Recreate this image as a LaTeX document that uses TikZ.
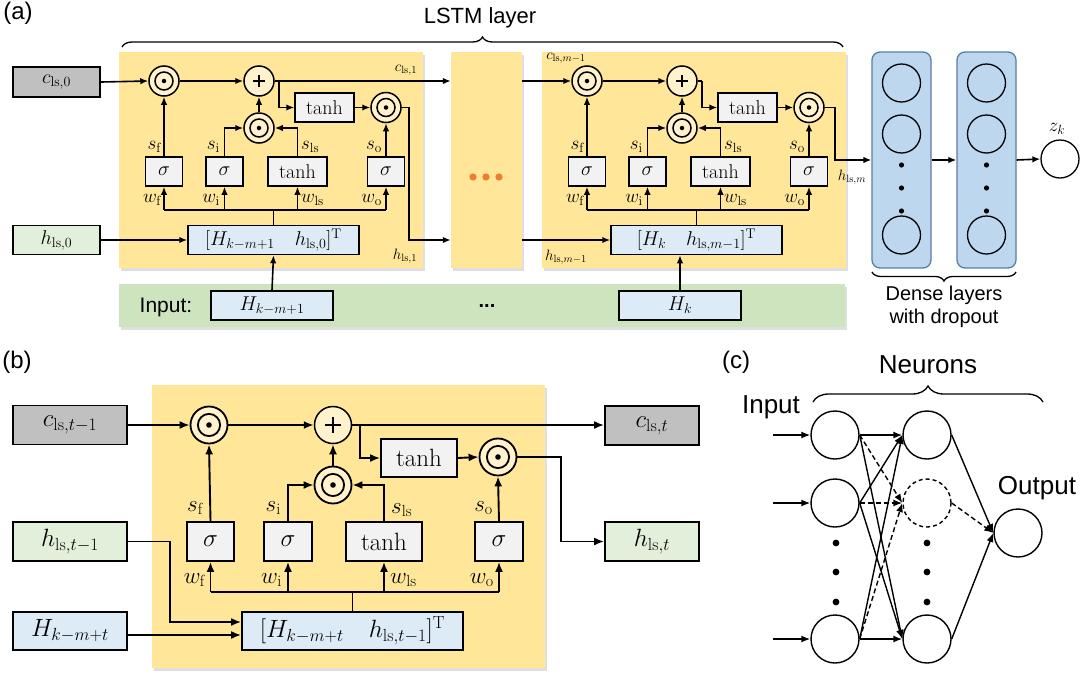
\RequirePackage{fix-cm}
\documentclass[tikz,border=0pt]{standalone}
\usepackage{fontspec}
\setsansfont{Liberation Sans}
\usetikzlibrary{arrows.meta,decorations.pathreplacing,calc,shadows}
\definecolor{cellY}{HTML}{FFE699}
\definecolor{circF}{HTML}{FFF2CC}
\definecolor{grayF}{HTML}{C0C0C0}
\definecolor{greenF}{HTML}{E2EFDA}
\definecolor{blueF}{HTML}{DDEBF7}
\definecolor{sigF}{HTML}{F2F2F2}
\definecolor{inputG}{HTML}{CDE4BE}
\definecolor{denseF}{HTML}{BDD7EE}
\definecolor{denseD}{HTML}{5B7DA5}
\definecolor{dotO}{HTML}{ED7D31}
\tikzset{
 lnA/.style={line width=1.6pt},
 arrA/.style={lnA,-{Latex[length=8pt,width=6.5pt]}},
 lnB/.style={line width=1.9pt},
 arrB/.style={lnB,-{Latex[length=10pt,width=8pt]}},
 arrC/.style={line width=1.4pt,-{Latex[length=9pt,width=7pt]}},
 cellbg/.style={fill=cellY, draw=none, inner sep=0pt, drop shadow={opacity=0.25, shadow xshift=2pt, shadow yshift=-2.5pt}},
 mA/.style={font=\fontsize{20}{22}\selectfont},
 mB/.style={font=\fontsize{25}{28}\selectfont},
 lblA/.style={font=\fontsize{19}{21}\selectfont, inner sep=0pt},
 lblB/.style={font=\fontsize{23}{26}\selectfont, inner sep=0pt},
 tinyA/.style={font=\fontsize{15}{17}\selectfont, inner sep=0pt},
 sansT/.style={font=\sffamily\fontsize{22}{26}\selectfont, inner sep=0pt},
 sansC/.style={font=\sffamily\fontsize{26}{30}\selectfont, inner sep=0pt},
 boxA/.style={draw, line width=1.5pt, inner sep=0pt, minimum height=29, mA},
 boxB/.style={draw, line width=1.8pt, inner sep=0pt, minimum height=39, mB},
 odot/.style 2 args={circle, draw, fill=circF, line width=#2, minimum size=#1, inner sep=0pt,
   path picture={\draw[black, line width=#2] (path picture bounding box.center) circle[radius=0.3*#1];
     \fill[black] (path picture bounding box.center) circle[radius=0.075*#1];}},
 plusc/.style 2 args={circle, draw, fill=circF, line width=1.5pt, minimum size=#1, inner sep=0pt,
   path picture={\draw[black, line width=2.3pt] ([xshift=-#2]path picture bounding box.center) -- ([xshift=#2]path picture bounding box.center)
     ([yshift=-#2]path picture bounding box.center) -- ([yshift=#2]path picture bounding box.center);}},
 odotA/.style={odot={30pt}{1.5pt}},
 plusA/.style={plusc={30pt}{6pt}},
 odotB/.style={odot={37pt}{1.8pt}},
 plusB/.style={plusc={37pt}{8pt}},
 neur/.style={circle, draw, line width=1.4pt, minimum size=48, inner sep=0pt},
 dneur/.style={circle, draw, line width=1.3pt, minimum size=38, inner sep=0pt},
}
\newcommand\lstmcell[3]{%
\begin{scope}[xshift=#2, name prefix=#1-]
\node[cellbg, minimum width=304, minimum height=216] (bg) at (271,160) {};
\node[odotA] (f) at (164,81) {};
\node[plusA] (p) at (259,81) {};
\node[odotA] (m) at (259,128) {};
\node[boxA, fill=sigF, minimum width=59] (th) at (324.5,107.5) {$\tanh$};
\node[odotA] (o) at (386,107.5) {};
\node[boxA, fill=sigF, minimum width=37] (sf) at (164,171.5) {$\sigma$};
\node[boxA, fill=sigF, minimum width=37] (si) at (224.5,171.5) {$\sigma$};
\node[boxA, fill=sigF, minimum width=59] (sl) at (297.5,171.5) {$\tanh$};
\node[boxA, fill=sigF, minimum width=37] (so) at (386,171.5) {$\sigma$};
\node[boxA, fill=blueF, minimum width=171] (cat) at (273.5,240) {#3};
\coordinate (bus) at (273.5,210);
\draw[lnA] (cat.north) -- (bus);
\draw[lnA] (sf.south |- bus) -- (so.south |- bus);
\foreach \n in {sf,si,sl,so} {\draw[arrA] (\n.south |- bus) -- (\n.south);}
\draw[arrA] (f.east) -- (p.west);
\draw[lnA] (p.east) -- ++(4,0) coordinate (br);
\draw[arrA] (br) |- (th.west);
\draw[arrA] (th.east) -- (o.west);
\draw[arrA] (sf.north) -- (f.south);
\draw[arrA] (si.north) |- (m.west);
\draw[arrA] (sl.north) |- (m.east);
\draw[arrA] (m.north) -- (p.south);
\draw[arrA] (so.north) -- (o.south);
\node[lblA, anchor=east] (lsf) at (161,147) {$s_{\mathrm{f}}$};
\node[lblA, anchor=east] (lsi) at (220,147) {$s_{\mathrm{i}}$};
\node[lblA, anchor=west] (lsl) at (301,147) {$s_{\mathrm{ls}}$};
\node[lblA, anchor=east] (lso) at (382,147) {$s_{\mathrm{o}}$};
\node[lblA, anchor=east] (lwf) at (161,200) {$w_{\mathrm{f}}$};
\node[lblA, anchor=east] (lwi) at (220,200) {$w_{\mathrm{i}}$};
\node[lblA, anchor=west] (lwl) at (301,200) {$w_{\mathrm{ls}}$};
\node[lblA, anchor=east] (lwo) at (382,200) {$w_{\mathrm{o}}$};
\end{scope}}
\begin{document}
\begin{tikzpicture}[x=1pt,y=-1pt]
\useasboundingbox (0,0) rectangle (1080,678);
% ---------------- (a) ----------------
\node[sansT, font=\sffamily\fontsize{24}{28}\selectfont] (la) at (18,13) {(a)};
\node[sansT] (lstm) at (480,18) {LSTM layer};
\draw[line width=1.3pt, decorate, decoration={brace, amplitude=10pt}] (122,47) -- (843,47);
\node[cellbg, fill=inputG, minimum width=726, minimum height=43] (bar) at (482,305.5) {};
\node[sansT, font=\sffamily\fontsize{21}{24}\selectfont] (inl) at (166,307) {Input:};
\node[sansT, font=\sffamily\bfseries\fontsize{20}{24}\selectfont] (dots) at (487,306) {...};
\node[boxA, fill=blueF, minimum width=122] (H1) at (272,305.5) {$H_{k-m+1}$};
\node[boxA, fill=blueF, minimum width=122] (Hk) at (680,305.5) {$H_{k}$};
\node[boxA, fill=grayF, minimum width=87, minimum height=30] (c0) at (56.5,82) {$c_{\mathrm{ls},0}$};
\node[boxA, fill=greenF, minimum width=87] (h0) at (56.5,240) {$h_{\mathrm{ls},0}$};
\lstmcell{c1}{0}{$[H_{k-m+1}\quad h_{\mathrm{ls},0}]^{\mathrm{T}}$}
\node[cellbg, minimum width=71, minimum height=216] (mid) at (486.5,160) {};
\fill[dotO] (473,177) circle[radius=3.6] (486,177) circle[radius=3.6] (499,177) circle[radius=3.6];
\lstmcell{c3}{423}{$[H_{k}\quad h_{\mathrm{ls},m-1}]^{\mathrm{T}}$}
\draw[arrA] (c0.east) -- (c1-f.west);
\draw[arrA] (h0.east) -- (c1-cat.west);
\draw[arrA] (H1.north) -- (c1-cat.south);
\draw[arrA] (Hk.north) -- (Hk.north |- c3-cat.south);
\draw[arrA] (c1-p.east) -- (mid.west |- c1-p.east);
\draw[arrA] (c1-o.east) -- (409,107.5) |- (mid.west |- c1-cat.west);
\draw[arrA] (mid.east |- c3-f.west) -- (c3-f.west);
\draw[arrA] (mid.east |- c3-cat.west) -- (c3-cat.west);
\node[tinyA] (lc1) at (406,70) {$c_{\mathrm{ls},1}$};
\node[tinyA] (lh1) at (405,256) {$h_{\mathrm{ls},1}$};
\node[tinyA] (lcm) at (566,58) {$c_{\mathrm{ls},m-1}$};
\node[tinyA] (lhm) at (566,257) {$h_{\mathrm{ls},m-1}$};
\node[tinyA] (lhmm) at (852,177) {$h_{\mathrm{ls},m}$};
% dense layers
\node[draw=denseD, fill=denseF, line width=1.3pt, rounded corners=8pt, minimum width=59, minimum height=216, inner sep=0pt] (d1) at (901.5,160) {};
\node[draw=denseD, fill=denseF, line width=1.3pt, rounded corners=8pt, minimum width=59, minimum height=216, inner sep=0pt] (d2) at (986.5,160) {};
\foreach \cx/\nm in {901.5/a,986.5/b}{
  \node[dneur] (n\nm1) at (\cx,83) {};
  \node[dneur] (n\nm2) at (\cx,134) {};
  \node[dneur] (n\nm3) at (\cx,235) {};
  \fill (\cx,165) circle[radius=2.6] (\cx,188) circle[radius=2.6] (\cx,211) circle[radius=2.6];
}
\node[dneur, fill=white] (zk) at (1060,159) {};
\node[lblA] (lzk) at (1057,129) {$z_k$};
\draw[arrA] (c3-o.east) -- (835,107.5) |- (d1.west);
\draw[arrA] (d1.east) -- (d2.west);
\draw[arrA] (d2.east) -- (zk.west);
\draw[line width=1.3pt, decorate, decoration={brace, amplitude=9pt}] (1016,272) -- (872,272);
\node[sansT, font=\sffamily\fontsize{20}{23}\selectfont, align=center] (dl) at (944,307) {Dense layers\\with dropout};
% ---------------- (b) ----------------
\node[sansT, font=\sffamily\fontsize{24}{28}\selectfont] (lb) at (17,362) {(b)};
\node[cellbg, minimum width=393, minimum height=283] (bbg) at (348.5,526.5) {};
\node[boxB, fill=grayF, minimum width=114] (ct1) at (70,425) {$c_{\mathrm{ls},t-1}$};
\node[boxB, fill=greenF, minimum width=114] (ht1) at (70,541.5) {$h_{\mathrm{ls},t-1}$};
\node[boxB, fill=blueF, minimum width=114, minimum height=38] (Ht) at (70,631) {$H_{k-m+t}$};
\node[odotB] (bf) at (209,425) {};
\node[plusB] (bp) at (333,425) {};
\node[odotB] (bm) at (333,485) {};
\node[boxB, fill=sigF, minimum width=76, minimum height=38] (bth) at (419,458) {$\tanh$};
\node[odotB] (bo) at (498,457) {};
\node[boxB, fill=sigF, minimum width=47] (bsf) at (210.5,541.5) {$\sigma$};
\node[boxB, fill=sigF, minimum width=48] (bsi) at (288,541.5) {$\sigma$};
\node[boxB, fill=sigF, minimum width=76] (bsl) at (384,541.5) {$\tanh$};
\node[boxB, fill=sigF, minimum width=48] (bso) at (499,541.5) {$\sigma$};
\node[boxB, fill=blueF, minimum width=221, minimum height=38] (bcat) at (352.5,631) {$[H_{k-m+t}\quad h_{\mathrm{ls},t-1}]^{\mathrm{T}}$};
\node[boxB, fill=grayF, minimum width=94] (ct) at (652,425.5) {$c_{\mathrm{ls},t}$};
\node[boxB, fill=greenF, minimum width=94] (htt) at (652,541.5) {$h_{\mathrm{ls},t}$};
\coordinate (bbus) at (352.5,592);
\draw[lnB] (bcat.north) -- (bbus);
\draw[lnB] (bsf.south |- bbus) -- (bso.south |- bbus);
\foreach \n in {bsf,bsi,bsl,bso} {\draw[arrB] (\n.south |- bbus) -- (\n.south);}
\draw[arrB] (ct1.east) -- (bf.west);
\draw[arrB] (bf.east) -- (bp.west);
\draw[arrB] (bp.east) -- (ct.west |- bp.east);
\draw[lnB] (bp.east) -- ++(8,0) coordinate (bbr);
\draw[arrB] (bbr) |- (bth.west);
\draw[arrB] (bth.east) -- (bo.west);
\draw[arrB] (bo.east) -- (561,457) |- (htt.west);
\draw[arrB] (bsf.north) -- (bf.south);
\draw[arrB] (bsi.north) |- (bm.west);
\draw[arrB] (bsl.north) |- (bm.east);
\draw[arrB] (bm.north) -- (bp.south);
\draw[arrB] (bso.north) -- (bo.south);
\draw[arrB] (ht1.east) -| (170,622) -- ([yshift=9pt]bcat.west);
\draw[arrB] (Ht.east |- 0,635) -- ([yshift=-4pt]bcat.west);
\node[lblB, anchor=east] (bls1) at (203,508) {$s_{\mathrm{f}}$};
\node[lblB, anchor=east] (bls2) at (281,508) {$s_{\mathrm{i}}$};
\node[lblB, anchor=west] (bls3) at (391,510) {$s_{\mathrm{ls}}$};
\node[lblB, anchor=east] (bls4) at (493,508) {$s_{\mathrm{o}}$};
\node[lblB, anchor=east] (blw1) at (205,580) {$w_{\mathrm{f}}$};
\node[lblB, anchor=east] (blw2) at (282,580) {$w_{\mathrm{i}}$};
\node[lblB, anchor=west] (blw3) at (390,580) {$w_{\mathrm{ls}}$};
\node[lblB, anchor=east] (blw4) at (494,580) {$w_{\mathrm{o}}$};
% ---------------- (c) ----------------
\node[sansC, font=\sffamily\fontsize{24}{28}\selectfont] (lc) at (736,362) {(c)};
\node[sansC] (neu) at (928,365) {Neurons};
\draw[line width=1.3pt, decorate, decoration={brace, amplitude=16pt}] (813,402) -- (1043,402);
\node[sansC] (inp) at (771,407) {Input};
\node[sansC] (outp) at (1037,488) {Output};
\node[neur] (i1) at (835,435) {};
\node[neur] (i2) at (835,503) {};
\node[neur] (i3) at (835,639) {};
\node[neur] (h1) at (927,435) {};
\node[neur, dash pattern=on 4pt off 3pt] (h2) at (927,503) {};
\node[neur] (h3) at (927,639) {};
\node[neur] (ou) at (1018,533) {};
\foreach \yy in {543,572,602} {\fill (836,\yy) circle[radius=3.4] (927,\yy) circle[radius=3.4];}
\coordinate (in1) at (773,435);
\coordinate (in2) at (773,503);
\coordinate (in3) at (773,639);
\draw[arrC] (in1) -- (i1.west);
\draw[arrC] (in2) -- (i2.west);
\draw[arrC] (in3) -- (i3.west);
\foreach \a in {i1,i2,i3} {
  \draw[arrC] (\a.east) -- (h1.west);
  \draw[arrC, dash pattern=on 5pt off 3pt] (\a.east) -- (h2.west);
  \draw[arrC] (\a.east) -- (h3.west);
}
\draw[arrC] (h1.east) -- (ou.west);
\draw[arrC, dash pattern=on 5pt off 3pt] (h2.east) -- (ou.west);
\draw[arrC] (h3.east) -- (ou.west);
\end{tikzpicture}
\end{document}
